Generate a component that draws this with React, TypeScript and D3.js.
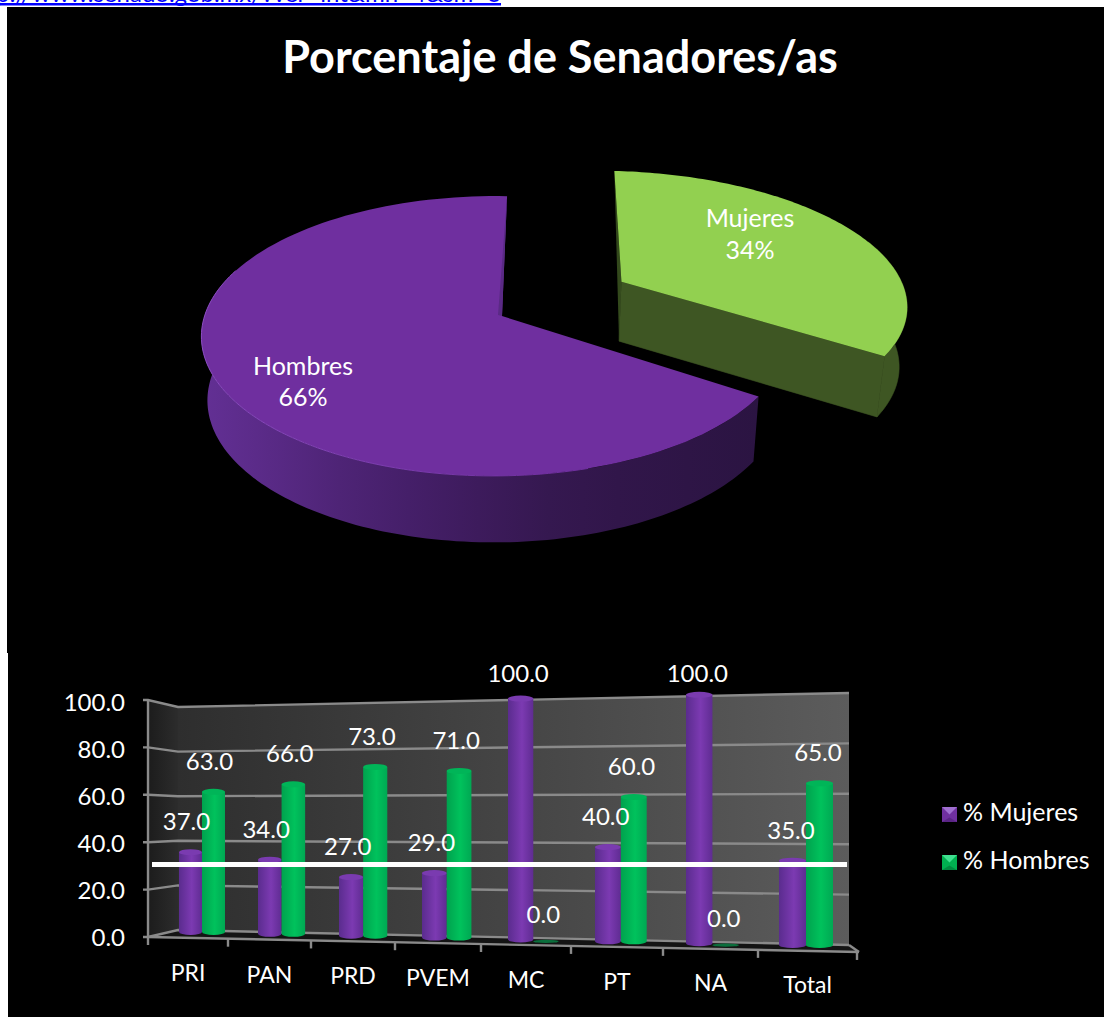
import React from "react";
import * as d3 from "d3";

const W = 1104, H = 1017;
const FONT = "Lato, Carlito, 'Open Sans', sans-serif";
const titleText = "Porcentaje de Senadores/as";
const linkText = "http://www.senado.gob.mx/?ver=int&mn=4&sm=6";

const pieNames = ["Mujeres", "Hombres"];
const pieValues = [34, 66];

const categories = ["PRI", "PAN", "PRD", "PVEM", "MC", "PT", "NA", "Total"];
const mujeres = [37, 34, 27, 29, 100, 40, 100, 35];
const hombres = [63, 66, 73, 71, 0, 60, 0, 65];
const yTicks = [0, 20, 40, 60, 80, 100];
const legendNames = ["% Mujeres", "% Hombres"];

// ---- pie perspective
const cx = 502, cy = 316, Rx = 290, Ry = 137, pZ = 1 / 7, qX = 0.025;
const bottomX = 0.98, bottomY = 1.018;
type P = [number, number];
function project(theta: number, ox = 0, oz = 0, rx = Rx, r = 1): P {
  const X = r * Math.sin(theta) + ox;
  const Z = r * Math.cos(theta) + oz;
  const w = 1 / (1 + pZ * Z + qX * X);
  return [cx + rx * X * w, cy - Ry * Z * w];
}
const lowerBy = (d: number) => (p: P): P => [cx + (p[0] - cx) * bottomX, cy + (p[1] - cy) * bottomY + d];
const lowerH = lowerBy(63.6);
const lowerM = lowerBy(60);
const samples = (a: number, b: number) => d3.range(0, 121).map((i) => a + ((b - a) * i) / 120);
const line = d3.line<P>().curve(d3.curveLinear);

const slices = d3.pie<number>().sort(null).startAngle(0.02).endAngle(0.02 + 2 * Math.PI)(pieValues);
const [sM, sH] = slices;
const midM = (sM.startAngle + sM.endAngle) / 2;
const explode = 0.5;
const gx = explode * Math.sin(midM) - 0.02, gz = explode * Math.cos(midM) + 0.03;
const gRx = 296, gStretch = 1.027;

const gApex = project(0, gx, gz, gRx, 0);
const gPoint = (t: number): P => {
  const p = project(t, gx, gz, gRx);
  return [gApex[0] + (p[0] - gApex[0]) * gStretch, p[1]];
};
const gArc = samples(sM.startAngle + 0.01, sM.endAngle).map(gPoint);
const gTop = line([gApex, ...gArc])! + "Z";
const gWallArc = samples(sM.startAngle + 1.2, sM.endAngle).map(gPoint);
const gWall = line([...gWallArc, ...gWallArc.map(lowerM).reverse()])! + "Z";
const gCorner = gArc[gArc.length - 1];
const gCut = line([gApex, gCorner, lowerM(gCorner), lowerM(gApex)])! + "Z";
const gLeft = line([gArc[0], lowerM(gApex), gApex])! + "Z";

const hArc = samples(sH.startAngle, sH.endAngle).map((t) => project(t));
const hApex = project(0, 0, 0, Rx, 0);
const hTop = line([hApex, ...hArc])! + "Z";
const hWallArc = samples(sH.startAngle, sH.startAngle + 2.75).map((t) => project(t));
const hWall = line([...hWallArc, ...hWallArc.map(lowerH).reverse()])! + "Z";
const hRimArc = samples(sH.startAngle, sH.startAngle + 2.9).map((t) => project(t));
const hStrip = line([hArc[hArc.length - 1], hApex, [hApex[0] - 4, hApex[1] - 1]])! + "Z";

// ---- 3D bar chart scales
const backLeftY = d3.scaleLinear().domain([0, 100]).range([930, 707]);
const backRightY = d3.scaleLinear().domain([0, 100]).range([945, 693]);
const sideY = d3.scaleLinear().domain([0, 100]).range([937, 700]);
const labelAxisY = d3.scaleLinear().domain([0, 100]).range([946, 711]);
const xL = 148, xB = 178, xR = 849, xF = 859;
const floorFront = d3.scaleLinear().domain([xL, xF]).range([937, 952]);
const tickIdx = d3.range(0, 9);
const tickX = d3.scaleLinear().domain(tickIdx).range([148, 228, 311, 395, 481, 571, 663, 758, 857]);
const groupLeft = d3.scaleLinear().domain(d3.range(0, 8)).range([179, 258, 339, 422, 508, 595, 686, 779]);
const barW = d3.scaleLinear().domain([0, 7]).range([23, 27]);
const baseY = d3.scaleLinear().domain([0, 7]).range([935, 948]);
const unitY = d3.scaleLinear().domain([0, 7]).range([2.32, 2.58]);
const labelDx = d3.scaleLinear().domain([0, 7]).range([-4, -1.5]);
const catY = d3.scaleLinear().domain([0, 7]).range([973, 985]);
const CAP = 3;
const topOf = (i: number, v: number) => baseY(i) - v * unitY(i);

function Cylinder({ i, v, k, fill, cap }: { i: number; v: number; k: number; fill: string; cap: string }) {
  const w = barW(i);
  const x = groupLeft(i) + k * w;
  const y0 = baseY(i) - CAP;
  const y1 = topOf(i, v) + CAP;
  if (v === 0) return <ellipse cx={x + w / 2} cy={baseY(i) - 1} rx={w / 2} ry={1.6} fill="#0b6e3c" />;
  return (
    <g>
      <path d={`M${x},${y1}L${x},${y0}A${w / 2},${CAP} 0 0 0 ${x + w},${y0}L${x + w},${y1}Z`} fill={fill} />
      <ellipse cx={x + w / 2} cy={y1} rx={w / 2} ry={CAP} fill={cap} />
    </g>
  );
}

function Marker({ x, y, s, base, light, dark }: { x: number; y: number; s: number; base: string; light: string; dark: string }) {
  const c = s / 2;
  return (
    <g transform={`translate(${x},${y})`}>
      <rect width={s} height={s} fill={base} />
      <path d={`M0,0L${s},0L${c},${c}Z`} fill={light} />
      <path d={`M0,${s}L${s},${s}L${c},${c + 3}Z`} fill={dark} />
    </g>
  );
}

export default function App() {
  const stops = d3.range(0, 9);
  const wallColor = d3.scaleLinear<string>().domain([0, 0.35, 0.7, 1]).range(["#2b1442", "#33174d", "#4a2170", "#633095"]);
  return (
    <svg width={W} height={H} viewBox={`0 0 ${W} ${H}`} style={{ position: "absolute", left: 0, top: 0, background: "#fff" }} fontFamily={FONT}>
      <defs>
        <linearGradient id="hw" gradientUnits="userSpaceOnUse" x1={757} x2={200} y1={0} y2={0}>
          {stops.map((s) => (
            <stop key={s} offset={s / 8} stopColor={wallColor(s / 8)} />
          ))}
        </linearGradient>
        <linearGradient id="rim" gradientUnits="userSpaceOnUse" x1={205} x2={560} y1={0} y2={0}>
          <stop offset="0" stopColor="#8a4cc0" />
          <stop offset="1" stopColor="#6f2f9f" />
        </linearGradient>
        <linearGradient id="back" x1="0" x2="1" y1="0" y2="0">
          <stop offset="0" stopColor="#2e2e2e" />
          <stop offset="1" stopColor="#5c5c5c" />
        </linearGradient>
        <linearGradient id="left" x1="0" x2="1" y1="0" y2="0">
          <stop offset="0" stopColor="#1c1c1c" />
          <stop offset="1" stopColor="#2c2c2c" />
        </linearGradient>
        <linearGradient id="purp" x1="0" x2="1" y1="0" y2="0">
          <stop offset="0" stopColor="#5a2c8e" />
          <stop offset="0.55" stopColor="#7c3ab2" />
          <stop offset="1" stopColor="#5f2c92" />
        </linearGradient>
        <linearGradient id="grn" x1="0" x2="1" y1="0" y2="0">
          <stop offset="0" stopColor="#00a24e" />
          <stop offset="0.55" stopColor="#00c25c" />
          <stop offset="1" stopColor="#00a853" />
        </linearGradient>
      </defs>

      <text x={501} y={2} textAnchor="end" fontSize={24} fill="#0000ff">{linkText}</text>
      <rect x={0} y={3} width={501} height={2.5} fill="#0000ff" />
      <rect x={7} y={7} width={W - 7} height={646} fill="#000" />
      <rect x={8} y={652} width={W - 8} height={H - 652} fill="#000" />

      <text x={560} y={73} textAnchor="middle" fontSize={45} fontWeight={700} fill="#fff">{titleText}</text>

      {/* Pie: Mujeres */}
      <path d={gLeft} fill="#33491c" />
      <path d={gWall} fill="#3e5623" stroke="#3e5623" strokeWidth={0.6} />
      <path d={gCut} fill="#3e5623" stroke="#3e5623" strokeWidth={0.6} />
      <path d={gTop} fill="#92d050" />
      {/* Pie: Hombres */}
      <path d={hWall} fill="url(#hw)" />
      <path d={hTop} fill="#6f2f9f" />
      <path d={hStrip} fill="#5a2a85" />
      <path d={line(hRimArc.slice(30))!} fill="none" stroke="url(#rim)" strokeWidth={1} />

      <g fill="#fff" fontSize={25} textAnchor="middle">
        <text x={750} y={227}>{pieNames[0]}</text>
        <text x={750} y={259}>{pieValues[0]}%</text>
        <text x={303} y={375}>{pieNames[1]}</text>
        <text x={303} y={406}>{pieValues[1]}%</text>
      </g>

      {/* Bar chart walls */}
      <path d={`M${xL},${sideY(100)}L${xB},${backLeftY(100)}L${xB},${backLeftY(0)}L${xL},${sideY(0)}Z`} fill="url(#left)" />
      <path d={`M${xB},${backLeftY(100)}L${xR},${backRightY(100)}L${xR},${backRightY(0)}L${xB},${backLeftY(0)}Z`} fill="url(#back)" />
      <path d={`M${xL},${sideY(0)}L${xB},${backLeftY(0)}L${xR},${backRightY(0)}L${xF},${floorFront(xF)}Z`} fill="#141414" />
      <g stroke="#8a8a8a" strokeWidth={2.4} fill="none">
        {yTicks.map((t) => (
          <path key={t} d={`M${xL - 5},${sideY(t)}L${xL},${sideY(t)}L${xB},${backLeftY(t)}L${xR},${backRightY(t)}`} />
        ))}
        <path d={`M${xL},${sideY(100)}L${xL},${sideY(0)}`} />
        <path d={`M${xL},${sideY(0)}L${xF},${floorFront(xF)}`} />
        <path d={`M${xR},${backRightY(0)}L${xF},${floorFront(xF)}`} />
        {tickIdx.map((i) => {
          const x = tickX(i);
          const y = floorFront(x);
          return <path key={i} d={`M${x},${y}L${x},${y + 8}`} />;
        })}
      </g>

      {/* Bars */}
      {categories.map((c, i) => (
        <g key={c}>
          <Cylinder i={i} v={mujeres[i]} k={0} fill="url(#purp)" cap="#7a3bb0" />
          <Cylinder i={i} v={hombres[i]} k={1} fill="url(#grn)" cap="#00b558" />
        </g>
      ))}

      <rect x={152} y={862} width={695} height={5} fill="#fff" />

      {/* Value labels */}
      <g fill="#fff" fontSize={24} textAnchor="middle">
        {categories.map((c, i) => {
          const w = barW(i);
          return (
            <g key={c}>
              {[mujeres[i], hombres[i]].map((v, k) => (
                <text key={k} x={groupLeft(i) + (k + 0.5) * w + labelDx(i)} y={Math.max(topOf(i, v) - 19, 682)}>
                  {v.toFixed(1)}
                </text>
              ))}
            </g>
          );
        })}
      </g>

      {/* Axis labels */}
      <g fill="#fff" fontSize={24} textAnchor="end">
        {yTicks.map((t) => (
          <text key={t} x={125} y={labelAxisY(t)}>{t.toFixed(1)}</text>
        ))}
      </g>
      <g fill="#fff" fontSize={23} textAnchor="middle">
        {categories.map((c, i) => (
          <text key={c} x={(tickX(i) + tickX(i + 1)) / 2} y={catY(i) + 8}>{c}</text>
        ))}
      </g>

      {/* Legend */}
      <Marker x={942} y={807} s={15} base="#7030a0" light="#a070d0" dark="#5a2585" />
      <Marker x={942} y={855} s={15} base="#00b050" light="#40e090" dark="#008a40" />
      <g fill="#fff" fontSize={25}>
        <text x={963} y={821}>{legendNames[0]}</text>
        <text x={963} y={869}>{legendNames[1]}</text>
      </g>
    </svg>
  );
}
